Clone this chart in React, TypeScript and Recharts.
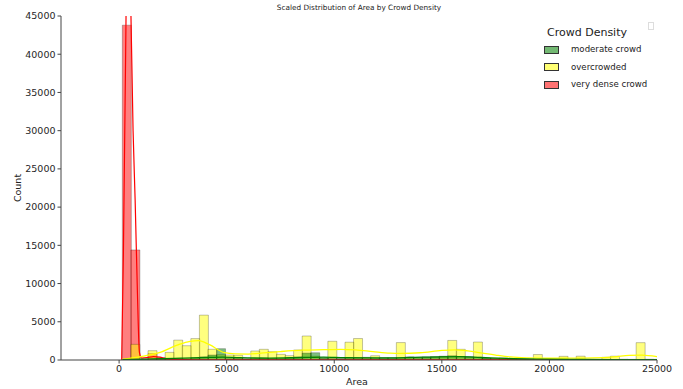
import React from 'react';
import { ComposedChart, Bar, Line, XAxis, YAxis } from 'recharts';

// Histogram bins (common to all hues)
const BIN_START = 150;
const BIN_WIDTH = 398;

const moderateCounts = [
  0, 0, 50, 100, 100, 150, 200, 150, 300, 400,
  650, 1480, 300, 250, 150, 200, 250, 200, 150, 300,
  400, 900, 950, 300, 200, 200, 250, 250, 200, 250,
  300, 300, 300, 350, 350, 400, 450, 500, 550, 450,
  430, 350, 250, 200, 150, 150, 100, 100, 100, 80,
  80, 80, 60, 60, 60, 50, 50, 50, 40, 40,
  40, 40, 30,
];

const overcrowdedCounts = [
  0, 2050, 0, 1220, 250, 1000, 2600, 1870, 2800, 5870,
  1400, 700, 650, 610, 150, 1180, 1400, 1090, 740, 570,
  1310, 3140, 500, 200, 2450, 100, 2330, 2810, 350, 560,
  150, 150, 2280, 400, 250, 250, 300, 450, 2560, 1400,
  300, 2350, 200, 200, 250, 150, 100, 100, 720, 100,
  100, 480, 80, 500, 80, 80, 350, 500, 100, 80,
  2270, 100, 80,
];

const veryDenseCounts = [
  43800, 14400, 100, 850, 300, 200, 80, 0, 0, 0,
  0, 0, 0, 0, 0, 0, 0, 0, 0, 0,
  0, 0, 0, 0, 0, 0, 0, 0, 0, 0,
  0, 0, 0, 0, 0, 0, 0, 0, 0, 0,
  0, 0, 0, 0, 0, 0, 0, 0, 0, 0,
  0, 0, 0, 0, 0, 0, 0, 0, 0, 0,
  0, 0, 0,
];

// KDE curves (x = Area, y = scaled count)
const kdeVeryDenseX = [120, 200, 330, 430, 545, 650, 745, 850, 945, 1050, 1300, 1600, 1900, 2200, 2800, 4000, 8000, 15000, 25000];
const kdeVeryDenseY = [0, 14000, 47000, 75000, 46000, 30000, 21000, 9000, 1000, 250, 300, 450, 380, 150, 50, 30, 20, 15, 10];

const kdeOvercrowdedX = [150, 300, 800, 1200, 1900, 2700, 3300, 3700, 4200, 4900, 5400, 6000, 6500, 7500, 8500, 9500, 10300, 11000, 11800, 12600, 13100, 14000, 15000, 15600, 16200, 16900, 17500, 18200, 19000, 20000, 21000, 22000, 23000, 23700, 24300, 25000];
const kdeOvercrowdedY = [80, 150, 350, 550, 1000, 1950, 2450, 2530, 2000, 950, 800, 780, 870, 1100, 1280, 1350, 1400, 1320, 1100, 900, 870, 950, 1250, 1330, 1200, 900, 650, 400, 280, 230, 240, 280, 420, 600, 650, 450];

const kdeModerateX = [150, 1000, 2000, 3000, 4000, 4800, 5600, 7000, 8500, 9500, 10500, 12000, 13500, 15000, 15800, 16800, 18000, 19500, 21000, 23000, 25000];
const kdeModerateY = [30, 100, 180, 250, 330, 380, 300, 250, 330, 380, 300, 280, 330, 420, 430, 330, 200, 120, 80, 60, 50];

const xTicks = [0, 5000, 10000, 15000, 20000, 25000];
const yTicks = [0, 5000, 10000, 15000, 20000, 25000, 30000, 35000, 40000, 45000];
const X_DOMAIN = [-2700, 25000];
const Y_DOMAIN = [0, 45000];

const legendItems = [
  { label: 'moderate crowd', color: 'rgba(0,128,0,0.55)' },
  { label: 'overcrowded', color: 'rgba(255,255,0,0.55)' },
  { label: 'very dense crowd', color: 'rgba(255,0,0,0.55)' },
];

const histRows = moderateCounts.map((m, i) => ({
  x: BIN_START + BIN_WIDTH * i + BIN_WIDTH / 2,
  moderate: m,
  overcrowded: overcrowdedCounts[i],
  veryDense: veryDenseCounts[i],
}));

const toRows = (xs: number[], ys: number[]) => xs.map((x, i) => ({ x, y: ys[i] }));
const kdeVeryDense = toRows(kdeVeryDenseX, kdeVeryDenseY);
const kdeOvercrowded = toRows(kdeOvercrowdedX, kdeOvercrowdedY);
const kdeModerate = toRows(kdeModerateX, kdeModerateY);

const FONT = '"DejaVu Sans", sans-serif';
const AXIS_COLOR = '#444';
const tickStyle = { fontSize: 9.5, fill: '#262626', fontFamily: FONT };

export default function App() {
  return (
    <div style={{ position: 'absolute', left: 0, top: 0, width: 683, height: 389, background: '#fff', fontFamily: FONT }}>
      <ComposedChart
        width={683}
        height={389}
        data={histRows}
        margin={{ top: 16, right: 26, bottom: 0, left: 0 }}
        barCategoryGap={0}
        barGap={0}
      >
        <XAxis
          xAxisId="main"
          dataKey="x"
          type="number"
          domain={X_DOMAIN}
          allowDataOverflow
          ticks={xTicks}
          height={29}
          tick={tickStyle}
          tickSize={3.5}
          tickMargin={2}
          stroke={AXIS_COLOR}
          interval={0}
        />
        <XAxis xAxisId="top" orientation="top" type="number" domain={X_DOMAIN} allowDataOverflow height={0} tick={false} tickLine={false} stroke={AXIS_COLOR} />
        <XAxis xAxisId="r" dataKey="x" type="number" domain={X_DOMAIN} allowDataOverflow hide height={0} />
        <XAxis xAxisId="y" dataKey="x" type="number" domain={X_DOMAIN} allowDataOverflow hide height={0} />
        <XAxis xAxisId="g" dataKey="x" type="number" domain={X_DOMAIN} allowDataOverflow hide height={0} />
        <YAxis
          type="number"
          domain={Y_DOMAIN}
          allowDataOverflow
          ticks={yTicks}
          width={61}
          tick={tickStyle}
          tickSize={3.5}
          tickMargin={2}
          stroke={AXIS_COLOR}
          interval={0}
        />
        <YAxis yAxisId="right" orientation="right" type="number" domain={Y_DOMAIN} width={0} tick={false} tickLine={false} stroke={AXIS_COLOR} />

        <Bar xAxisId="r" dataKey="veryDense" fill="#ff0000" fillOpacity={0.5} stroke="#000" strokeOpacity={0.3} strokeWidth={0.8} isAnimationActive={false} />
        <Bar xAxisId="y" dataKey="overcrowded" fill="#ffff00" fillOpacity={0.5} stroke="#000" strokeOpacity={0.3} strokeWidth={0.8} isAnimationActive={false} />
        <Bar xAxisId="g" dataKey="moderate" fill="#008000" fillOpacity={0.5} stroke="#000" strokeOpacity={0.3} strokeWidth={0.8} isAnimationActive={false} />

        <Line xAxisId="main" data={kdeVeryDense} dataKey="y" type="monotone" stroke="#ff0000" strokeWidth={1.2} dot={false} activeDot={false} isAnimationActive={false} />
        <Line xAxisId="main" data={kdeOvercrowded} dataKey="y" type="monotone" stroke="#ffff00" strokeWidth={1.3} dot={false} activeDot={false} isAnimationActive={false} />
        <Line xAxisId="main" data={kdeModerate} dataKey="y" type="monotone" stroke="#008000" strokeWidth={1.3} dot={false} activeDot={false} isAnimationActive={false} />
      </ComposedChart>

      <div style={{ position: 'absolute', left: 359, top: 8, transform: 'translate(-50%,-50%)', fontSize: 7.3, lineHeight: 1, whiteSpace: 'nowrap', color: '#222' }}>
        Scaled Distribution of Area by Crowd Density
      </div>
      <div style={{ position: 'absolute', left: 357, top: 382, transform: 'translate(-50%,-50%)', fontSize: 9.5, lineHeight: 1, color: '#222' }}>
        Area
      </div>
      <div style={{ position: 'absolute', left: 18, top: 188, transform: 'translate(-50%,-50%) rotate(-90deg)', fontSize: 9.5, lineHeight: 1, color: '#222' }}>
        Count
      </div>

      <div style={{ position: 'absolute', left: 547, top: 27, fontSize: 11, lineHeight: 1, whiteSpace: 'nowrap', color: '#222' }}>
        Crowd Density
      </div>
      {legendItems.map((it, i) => (
        <div key={it.label} style={{ position: 'absolute', left: 544, top: 45 + i * 17.5, display: 'flex', alignItems: 'center', height: 9, whiteSpace: 'nowrap' }}>
          <div style={{ width: 13, height: 6, background: it.color, border: '1px solid #333', marginRight: 12 }} />
          <span style={{ fontSize: 8.6, lineHeight: 1, color: '#222' }}>{it.label}</span>
        </div>
      ))}
      <div style={{ position: 'absolute', left: 648, top: 22, width: 4, height: 6, border: '1px solid #ddd' }} />
    </div>
  );
}
